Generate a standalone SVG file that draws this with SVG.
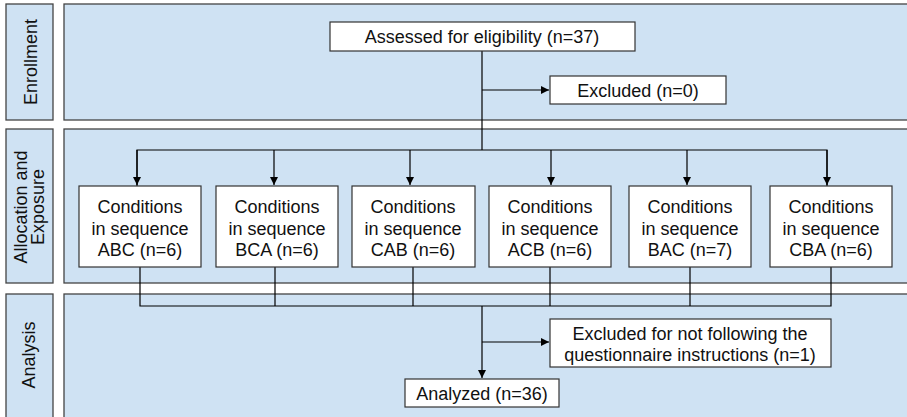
<svg xmlns="http://www.w3.org/2000/svg" width="907" height="417" viewBox="0 0 907 417">
<defs>
<marker id="ah" viewBox="0 0 10 10" refX="10" refY="5" markerWidth="9" markerHeight="8" markerUnits="userSpaceOnUse" orient="auto">
<path d="M0,0 L10,5 L0,10 z" fill="#000"/>
</marker>
<style>
.panel{fill:#cfe2f3;stroke:#444;stroke-width:1.3}
.box{fill:#fff;stroke:#333;stroke-width:1.2}
.t{font-family:"Liberation Sans",Arial,sans-serif;font-size:18px;fill:#111;text-anchor:middle}
.c{fill:none;stroke:#000;stroke-width:1.2}
</style>
</defs>
<rect width="907" height="417" fill="#fff"/>
<g id="panels">
<rect class="panel" x="6" y="4" width="47" height="116"/>
<rect class="panel" x="64" y="4" width="845" height="116"/>
<rect class="panel" x="6" y="129" width="47" height="154"/>
<rect class="panel" x="64" y="129" width="845" height="154"/>
<rect class="panel" x="6" y="294" width="47" height="130"/>
<rect class="panel" x="64" y="294" width="845" height="130"/>
<text class="t" transform="translate(37,62) rotate(-90)">Enrollment</text>
<text class="t" transform="translate(26.5,207) rotate(-90)">Allocation and</text>
<text class="t" transform="translate(44,207) rotate(-90)">Exposure</text>
<text class="t" transform="translate(35,355) rotate(-90)">Analysis</text>
</g>
<g id="connectors">
<path class="c" d="M482,51 V150"/>
<path class="c" d="M482,90 H549" marker-end="url(#ah)"/>
<path class="c" d="M137,186 V150 H827 V186"/>
<path class="c" d="M137,150 V185" marker-end="url(#ah)"/>
<path class="c" d="M274,150 V185" marker-end="url(#ah)"/>
<path class="c" d="M410,150 V185" marker-end="url(#ah)"/>
<path class="c" d="M551,150 V185" marker-end="url(#ah)"/>
<path class="c" d="M687,150 V185" marker-end="url(#ah)"/>
<path class="c" d="M827,150 V185" marker-end="url(#ah)"/>
<path class="c" d="M140,267 V306 H831 V267"/>
<path class="c" d="M275,267 V306"/>
<path class="c" d="M413,267 V306"/>
<path class="c" d="M550,267 V306"/>
<path class="c" d="M690,267 V306"/>
<path class="c" d="M482,306 V378" marker-end="url(#ah)"/>
<path class="c" d="M482,342 H549" marker-end="url(#ah)"/>
</g>
<g id="assessed">
<rect class="box" x="330" y="22" width="305" height="29"/>
<text class="t" x="482" y="43">Assessed for eligibility (n=37)</text>
</g>
<g id="excluded">
<rect class="box" x="550" y="76" width="176" height="28"/>
<text class="t" x="638" y="96.5">Excluded (n=0)</text>
</g>
<g id="abc">
<rect class="box" x="79" y="186" width="122" height="81"/>
<text class="t" x="140" y="212.5">Conditions</text>
<text class="t" x="140" y="234.5">in sequence</text>
<text class="t" x="140" y="256">ABC (n=6)</text>
</g>
<g id="bca">
<rect class="box" x="216" y="186" width="122" height="81"/>
<text class="t" x="277" y="212.5">Conditions</text>
<text class="t" x="277" y="234.5">in sequence</text>
<text class="t" x="277" y="256">BCA (n=6)</text>
</g>
<g id="cab">
<rect class="box" x="352" y="186" width="123" height="81"/>
<text class="t" x="413" y="212.5">Conditions</text>
<text class="t" x="413" y="234.5">in sequence</text>
<text class="t" x="413" y="256">CAB (n=6)</text>
</g>
<g id="acb">
<rect class="box" x="489" y="186" width="122" height="81"/>
<text class="t" x="550" y="212.5">Conditions</text>
<text class="t" x="550" y="234.5">in sequence</text>
<text class="t" x="550" y="256">ACB (n=6)</text>
</g>
<g id="bac">
<rect class="box" x="629" y="186" width="122" height="81"/>
<text class="t" x="690" y="212.5">Conditions</text>
<text class="t" x="690" y="234.5">in sequence</text>
<text class="t" x="690" y="256">BAC (n=7)</text>
</g>
<g id="cba">
<rect class="box" x="770" y="186" width="122" height="81"/>
<text class="t" x="831" y="212.5">Conditions</text>
<text class="t" x="831" y="234.5">in sequence</text>
<text class="t" x="831" y="256">CBA (n=6)</text>
</g>
<g id="excluded2">
<rect class="box" x="550" y="319" width="281" height="48"/>
<text class="t" x="690" y="339.5">Excluded for not following the</text>
<text class="t" x="690" y="360.5">questionnaire instructions (n=1)</text>
</g>
<g id="analyzed">
<rect class="box" x="405" y="379" width="154" height="28"/>
<text class="t" x="482" y="399.5">Analyzed (n=36)</text>
</g>
</svg>
